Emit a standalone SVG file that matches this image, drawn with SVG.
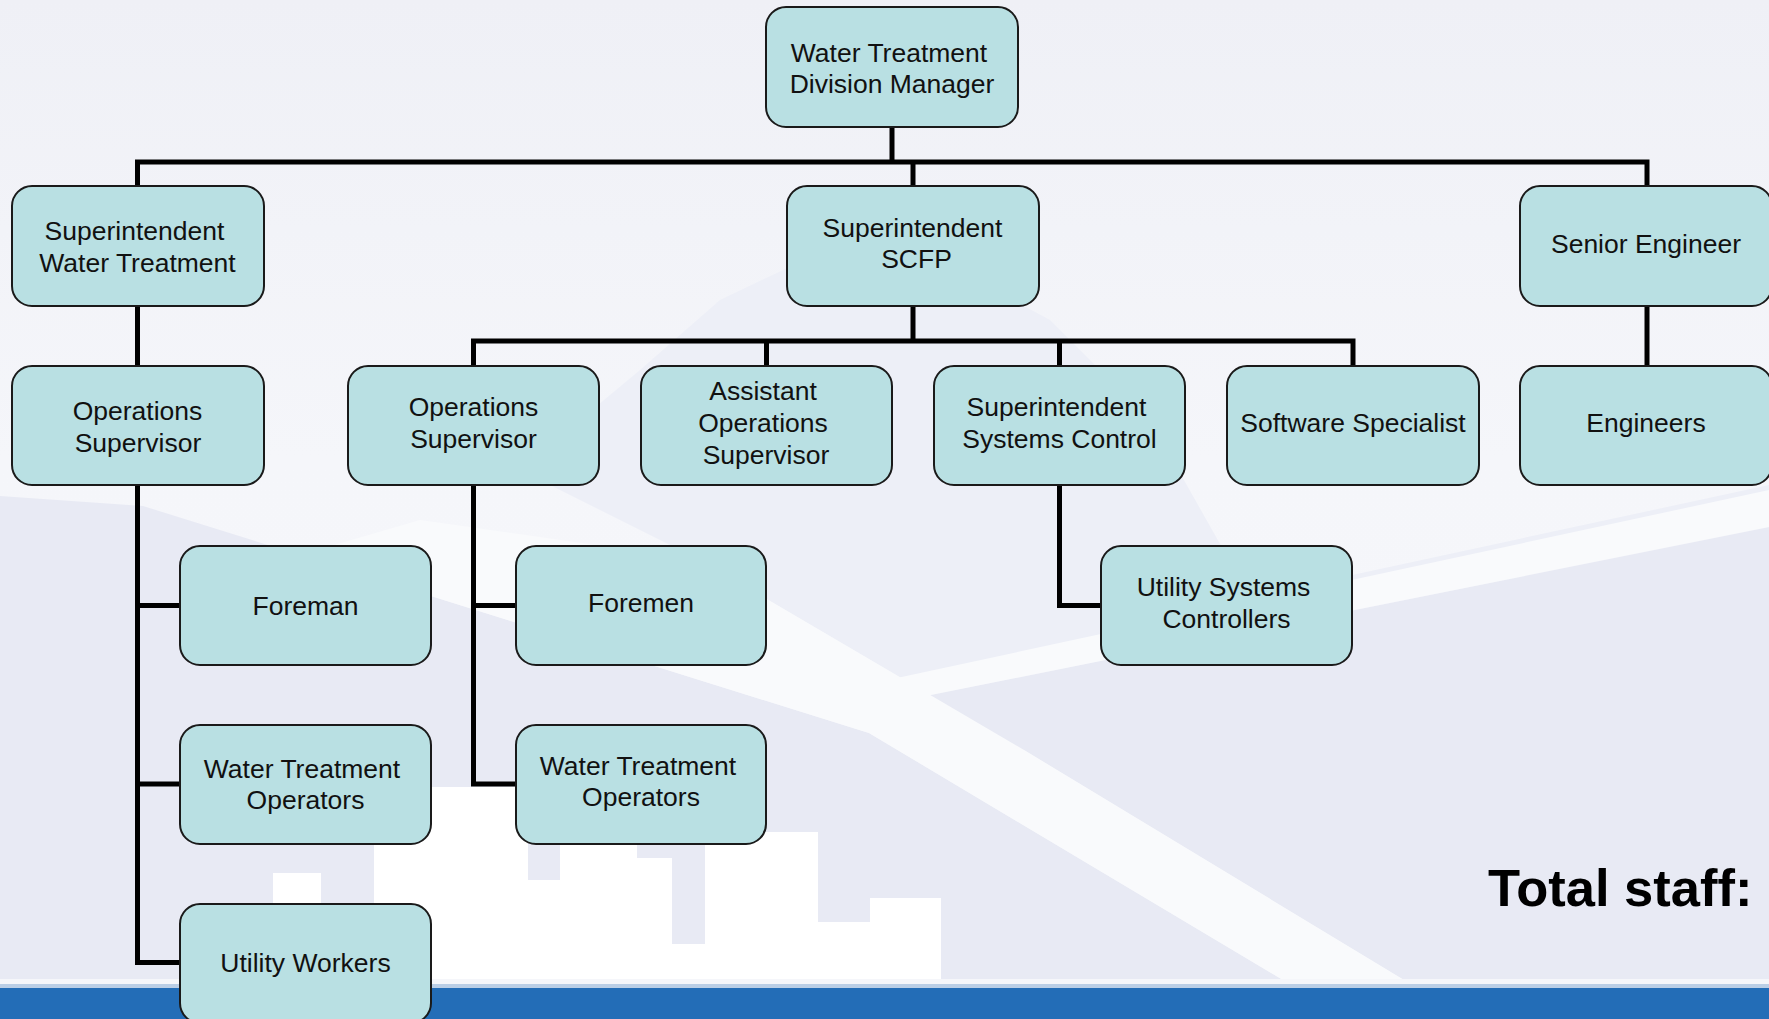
<svg xmlns="http://www.w3.org/2000/svg" width="1769" height="1019" viewBox="0 0 1769 1019">
<defs>
<linearGradient id="sky" x1="0" y1="0" x2="0" y2="1">
<stop offset="0" stop-color="#EFF0F6"/>
<stop offset="0.45" stop-color="#F5F6FA"/>
<stop offset="1" stop-color="#F6F7FB"/>
</linearGradient>
<style>
.box{fill:#B9E0E3;stroke:#1A1A1A;stroke-width:2}
.lbl{font-family:"Liberation Sans",Arial,sans-serif;font-size:26.5px;fill:#111;text-anchor:middle}
.ln{fill:none;stroke:#000;stroke-width:5}
.dark{fill:#E8EAF4}
.road{fill:#F9FAFC}
.bld{fill:#FFFFFF}
</style>
</defs>
<g id="background">
<rect width="1769" height="1019" fill="url(#sky)"/>
<polygon points="520,470 640,370 720,300 800,262 870,252 950,266 1050,320 1150,420 1250,597 1769,485 1769,983 1409,983 1024,750 700,560" fill="#EDEFF7"/>
<polygon class="dark" points="0,496 143,506 869,733 1288,983 0,983"/>
<polygon class="dark" points="871,707 1024,750 1409,983 1769,983 1769,527"/>
<polygon class="road" points="869,684 1769,490 1769,527 871,707"/>
<polygon class="road" points="420,520 700,560 1024,750 1409,983 1288,983 869,733 300,555"/>
<path class="bld" d="M273,983 V873 H321 V983 Z M374,983 V787 H528 V880 H560 V800 H637 V858 H672 V944 H705 V832 H818 V922 H870 V898 H941 V983 Z"/>
<rect x="0" y="979" width="1769" height="5" fill="#F5F6FA"/>
<rect x="0" y="984" width="1769" height="4" fill="#BACEE6"/>
<rect x="0" y="988" width="1769" height="31" fill="#236DB7"/>
</g>
<g id="connectors">
<path class="ln" d="M892,127 V162"/>
<path class="ln" d="M137.5,186 V162 H1647 V186"/>
<path class="ln" d="M913,162 V186"/>
<path class="ln" d="M137.5,306 V366"/>
<path class="ln" d="M1647,306 V366"/>
<path class="ln" d="M913,306 V341"/>
<path class="ln" d="M473.5,366 V341 H1353 V366"/>
<path class="ln" d="M766.5,341 V366"/>
<path class="ln" d="M1059.5,341 V366"/>
<path class="ln" d="M137.5,485 V962.5 H180"/>
<path class="ln" d="M137.5,605.5 H180"/>
<path class="ln" d="M137.5,784 H180"/>
<path class="ln" d="M473.5,485 V784 H516"/>
<path class="ln" d="M473.5,605.5 H516"/>
<path class="ln" d="M1059.5,485 V605.5 H1101"/>
</g>
<g id="nodes">
<g id="n-division-manager">
<rect class="box" x="766" y="7" width="252" height="120" rx="20"/>
<text class="lbl" x="889" y="62">Water Treatment</text>
<text class="lbl" x="892" y="93">Division Manager</text>
</g>
<g id="n-supt-water-treatment">
<rect class="box" x="12" y="186" width="252" height="120" rx="20"/>
<text class="lbl" x="134.5" y="240">Superintendent</text>
<text class="lbl" x="137.5" y="272">Water Treatment</text>
</g>
<g id="n-supt-scfp">
<rect class="box" x="787" y="186" width="252" height="120" rx="20"/>
<text class="lbl" x="912.5" y="237">Superintendent</text>
<text class="lbl" x="916.5" y="268">SCFP</text>
</g>
<g id="n-senior-engineer">
<rect class="box" x="1520" y="186" width="252" height="120" rx="20"/>
<text class="lbl" x="1646" y="253">Senior Engineer</text>
</g>
<g id="n-ops-supervisor-1">
<rect class="box" x="12" y="366" width="252" height="119" rx="20"/>
<text class="lbl" x="137.5" y="420">Operations</text>
<text class="lbl" x="138" y="452">Supervisor</text>
</g>
<g id="n-ops-supervisor-2">
<rect class="box" x="348" y="366" width="251" height="119" rx="20"/>
<text class="lbl" x="473.5" y="416">Operations</text>
<text class="lbl" x="473.5" y="448">Supervisor</text>
</g>
<g id="n-asst-ops-supervisor">
<rect class="box" x="641" y="366" width="251" height="119" rx="20"/>
<text class="lbl" x="763" y="400">Assistant</text>
<text class="lbl" x="763" y="432">Operations</text>
<text class="lbl" x="766" y="464">Supervisor</text>
</g>
<g id="n-supt-systems-control">
<rect class="box" x="934" y="366" width="251" height="119" rx="20"/>
<text class="lbl" x="1056.5" y="416">Superintendent</text>
<text class="lbl" x="1059.5" y="448">Systems Control</text>
</g>
<g id="n-software-specialist">
<rect class="box" x="1227" y="366" width="252" height="119" rx="20"/>
<text class="lbl" x="1353" y="432">Software Specialist</text>
</g>
<g id="n-engineers">
<rect class="box" x="1520" y="366" width="252" height="119" rx="20"/>
<text class="lbl" x="1646" y="432">Engineers</text>
</g>
<g id="n-foreman">
<rect class="box" x="180" y="546" width="251" height="119" rx="20"/>
<text class="lbl" x="305.5" y="615">Foreman</text>
</g>
<g id="n-foremen">
<rect class="box" x="516" y="546" width="250" height="119" rx="20"/>
<text class="lbl" x="641" y="612">Foremen</text>
</g>
<g id="n-utility-systems-controllers">
<rect class="box" x="1101" y="546" width="251" height="119" rx="20"/>
<text class="lbl" x="1223.5" y="596">Utility Systems</text>
<text class="lbl" x="1226.5" y="628">Controllers</text>
</g>
<g id="n-wt-operators-1">
<rect class="box" x="180" y="725" width="251" height="119" rx="20"/>
<text class="lbl" x="302" y="778">Water Treatment</text>
<text class="lbl" x="305.5" y="809">Operators</text>
</g>
<g id="n-wt-operators-2">
<rect class="box" x="516" y="725" width="250" height="119" rx="20"/>
<text class="lbl" x="638" y="775">Water Treatment</text>
<text class="lbl" x="641" y="806">Operators</text>
</g>
<g id="n-utility-workers">
<rect class="box" x="180" y="904" width="251" height="119" rx="20"/>
<text class="lbl" x="305.5" y="972">Utility Workers</text>
</g>
</g>
<text x="1488" y="906" font-family="'Liberation Sans',Arial,sans-serif" font-size="52.5" font-weight="bold" fill="#000">Total staff:</text>
</svg>
